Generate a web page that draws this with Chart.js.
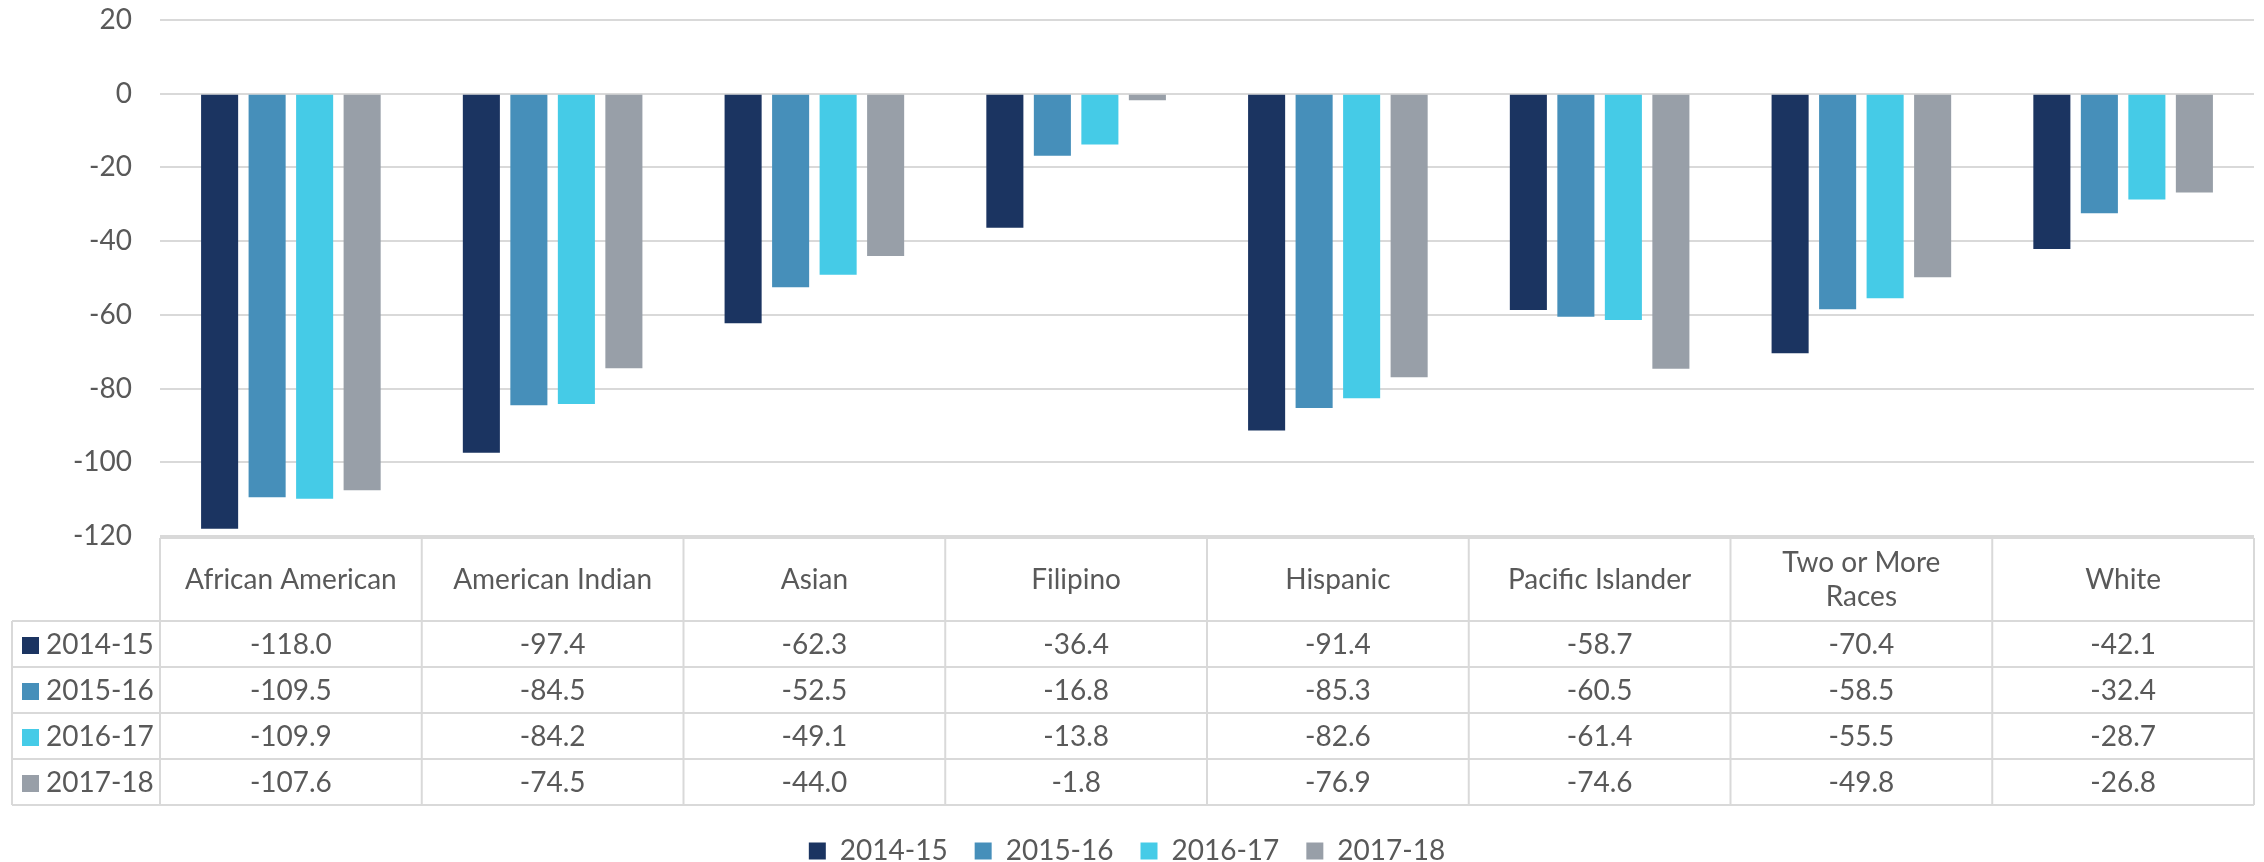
<!DOCTYPE html>
<html>
<head>
  <title>Chart</title>
  <script src="https://cdn.jsdelivr.net/npm/chart.js"></script>
  <style>
    body { margin: 0; background: #fff; }
    #box { width: 2264px; height: 862px; }
  </style>
</head>
<body>
  <div id="box"><canvas id="grafico" width="2264" height="862"></canvas></div>

  <script>
    const categorias = ['African American', 'American Indian', 'Asian', 'Filipino', 'Hispanic', 'Pacific Islander', ['Two or More', 'Races'], 'White'];
    const anios = ['2014-15', '2015-16', '2016-17', '2017-18'];
    const v2014 = [-118.0, -97.4, -62.3, -36.4, -91.4, -58.7, -70.4, -42.1];
    const v2015 = [-109.5, -84.5, -52.5, -16.8, -85.3, -60.5, -58.5, -32.4];
    const v2016 = [-109.9, -84.2, -49.1, -13.8, -82.6, -61.4, -55.5, -28.7];
    const v2017 = [-107.6, -74.5, -44.0, -1.8, -76.9, -74.6, -49.8, -26.8];
    const colores = ['#1b3461', '#468fba', '#45cbe7', '#989fa8'];
    const series = [v2014, v2015, v2016, v2017];

    const fuente = 'Lato, "Open Sans", sans-serif';
    const gris = '#595959';
    const linea = '#d9d9d9';

    // tabla de datos debajo del grafico (como en Excel)
    const tablaPlugin = {
      id: 'tabla',
      afterDraw(chart) {
        const ctx = chart.ctx;
        const x = chart.scales.x;
        const area = chart.chartArea;
        const mitad = (x.getPixelForValue(1) - x.getPixelForValue(0)) / 2;
        const top = area.bottom + 2;
        const headerH = 83;
        const rowH = 46;
        const leyIzq = 12;
        const bottom = top + headerH + rowH * series.length;

        ctx.save();
        ctx.strokeStyle = linea;
        ctx.lineWidth = 2;
        ctx.beginPath();
        // lineas horizontales
        ctx.moveTo(area.left, top); ctx.lineTo(area.right, top);
        for (let r = 0; r <= series.length; r++) {
          const y = top + headerH + r * rowH;
          ctx.moveTo(leyIzq, y); ctx.lineTo(area.right, y);
        }
        // lineas verticales
        ctx.moveTo(leyIzq, top + headerH); ctx.lineTo(leyIzq, bottom);
        for (let i = 0; i < categorias.length; i++) {
          const xl = x.getPixelForValue(i) - mitad;
          ctx.moveTo(xl, top); ctx.lineTo(xl, bottom);
        }
        ctx.moveTo(area.right, top); ctx.lineTo(area.right, bottom);
        ctx.stroke();

        ctx.fillStyle = gris;
        ctx.font = '28px ' + fuente;
        ctx.textAlign = 'center';
        ctx.textBaseline = 'middle';
        categorias.forEach((c, i) => {
          const cx = x.getPixelForValue(i);
          const lineas = Array.isArray(c) ? c : [c];
          const cy = top + headerH / 2 - (lineas.length - 1) * 17;
          lineas.forEach((t, k) => ctx.fillText(t, cx, cy + k * 34));
        });

        series.forEach((s, r) => {
          const cy = top + headerH + r * rowH + rowH / 2 + 1;
          ctx.fillStyle = colores[r];
          ctx.fillRect(22, cy - 8, 17, 17);
          ctx.fillStyle = gris;
          ctx.textAlign = 'left';
          ctx.fillText(anios[r], 46, cy);
          ctx.textAlign = 'center';
          s.forEach((v, i) => ctx.fillText(v.toFixed(1), x.getPixelForValue(i), cy));
        });
        ctx.restore();
      }
    };

    const ctx = document.getElementById('grafico').getContext('2d');
    new Chart(ctx, {
      type: 'bar',
      data: {
        labels: categorias,
        datasets: anios.map((a, i) => ({
          label: a,
          data: series[i],
          backgroundColor: colores[i],
          categoryPercentage: 0.726,
          barPercentage: 0.78
        }))
      },
      options: {
        responsive: false,
        animation: false,
        layout: { padding: { top: 20, right: 10, left: 0, bottom: -13 } },
        plugins: {
          tooltip: { enabled: false },
          legend: {
            position: 'bottom',
            labels: {
              boxWidth: 17,
              boxHeight: 17,
              padding: 27,
              color: gris,
              font: { family: fuente, size: 28 }
            }
          }
        },
        scales: {
          x: {
            grid: { display: false },
            border: { display: false },
            ticks: { display: false },
            afterFit: s => { s.height = 274; }
          },
          y: {
            min: -120,
            max: 20,
            ticks: { stepSize: 20, color: gris, padding: 28, font: { family: fuente, size: 28 } },
            grid: { color: linea, lineWidth: 2, drawTicks: false },
            border: { display: false },
            afterFit: s => { s.width = 160; s.paddingTop = 0; s.paddingBottom = 0; }
          }
        }
      },
      plugins: [tablaPlugin]
    });
  </script>
</body>
</html>
